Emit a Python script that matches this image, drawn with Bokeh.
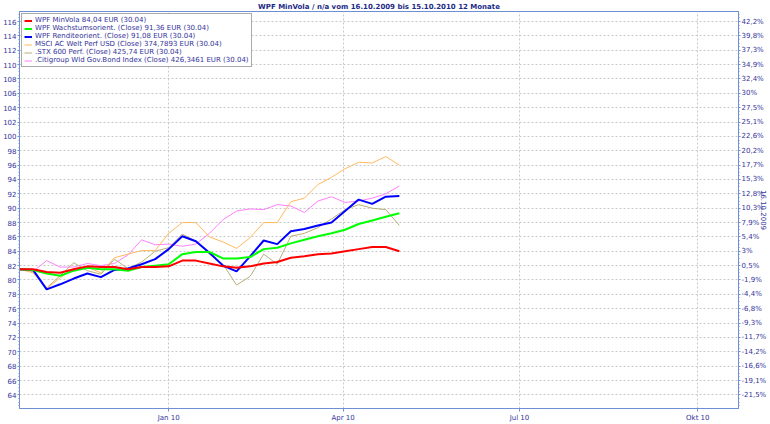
import numpy as np
import pandas as pd
from bokeh.plotting import figure
from bokeh.models import (LinearAxis, FixedTicker, Legend, LegendItem,
                          Range1d, ColumnDataSource)
from bokeh.embed import file_html
from bokeh.resources import INLINE

# ---------------- data ----------------
dates = ["2009-10-16", "2009-10-23", "2009-10-30", "2009-11-06", "2009-11-13",
         "2009-11-20", "2009-11-27", "2009-12-04", "2009-12-11", "2009-12-18",
         "2009-12-25", "2010-01-01", "2010-01-08", "2010-01-15", "2010-01-22",
         "2010-01-29", "2010-02-05", "2010-02-12", "2010-02-19", "2010-02-26",
         "2010-03-05", "2010-03-12", "2010-03-19", "2010-03-26", "2010-04-02",
         "2010-04-09", "2010-04-16", "2010-04-23", "2010-04-30"]

minvola = [81.5, 81.5, 81.1, 81.0, 81.5, 81.9, 81.8, 81.8, 81.5, 81.8,
           81.8, 81.9, 82.7, 82.7, 82.3, 81.9, 81.7, 81.9, 82.3, 82.5,
           83.1, 83.3, 83.6, 83.7, 84.0, 84.3, 84.6, 84.6, 84.0]
wachstum = [81.5, 81.4, 80.9, 80.6, 81.3, 81.7, 81.5, 81.5, 81.3, 81.8,
            82.0, 82.2, 83.6, 83.9, 83.9, 83.0, 83.0, 83.2, 84.3, 84.5,
            85.1, 85.6, 86.1, 86.5, 87.0, 87.8, 88.3, 88.8, 89.3]
rendite = [81.5, 81.4, 78.7, 79.4, 80.2, 80.9, 80.4, 81.4, 81.6, 82.2,
           82.9, 84.3, 86.1, 85.4, 83.8, 82.0, 81.2, 83.3, 85.5, 85.0,
           86.8, 87.1, 87.6, 88.0, 89.6, 91.2, 90.6, 91.6, 91.7]
msci = [81.5, 81.0, 78.8, 80.3, 81.6, 81.8, 81.0, 83.1, 83.6, 84.1,
        84.1, 86.5, 88.0, 88.0, 86.0, 85.3, 84.4, 85.9, 88.0, 88.0,
        90.9, 91.4, 93.3, 94.3, 95.5, 96.4, 96.3, 97.2, 96.0]
stx600 = [81.5, 81.2, 78.9, 80.6, 82.4, 81.3, 80.8, 82.9, 81.6, 82.5,
          84.0, 84.5, 86.4, 85.4, 83.6, 82.2, 79.3, 80.5, 83.6, 82.2,
          86.1, 86.5, 87.3, 88.5, 89.8, 90.5, 90.0, 89.8, 87.6]
citi = [81.5, 81.2, 82.7, 81.8, 81.8, 82.3, 82.0, 82.3, 83.5, 85.6,
        84.9, 85.0, 84.7, 85.0, 86.5, 88.4, 89.6, 89.9, 89.8, 90.5,
        90.3, 89.4, 91.0, 91.6, 90.8, 91.0, 91.4, 92.0, 93.1]

legend_labels = [
    "WPF MinVola 84,04 EUR (30.04)",
    "WPF Wachstumsorient. (Close) 91,36 EUR (30.04)",
    "WPF Renditeorient. (Close) 91,08 EUR (30.04)",
    "MSCI AC Welt Perf USD (Close) 374,7893 EUR (30.04)",
    ".STX 600 Perf. (Close) 425,74 EUR (30.04)",
    ".Citigroup Wld Gov.Bond Index (Close) 426,3461 EUR (30.04)",
]

left_ticks = [64, 66, 68, 70, 72, 74, 76, 78, 80, 82, 84, 86, 88, 90, 92,
              94, 96, 98, 100, 102, 104, 106, 108, 110, 112, 114, 116]
right_labels = ["-21,5%", "-19,1%", "-16,6%", "-14,2%", "-11,7%", "-9,3%",
                "-6,8%", "-4,4%", "-1,9%", "0,5%", "3%", "5,4%", "7,9%",
                "10,3%", "12,8%", "15,3%", "17,7%", "20,2%", "22,6%", "25,1%",
                "27,5%", "30%", "32,4%", "34,9%", "37,3%", "39,8%", "42,2%"]
x_tick_dates = ["2010-01-01", "2010-04-01", "2010-07-01", "2010-10-01"]
x_tick_labels = ["Jan 10", "Apr 10", "Jul 10", "Okt 10"]

title_text = "WPF MinVola / n/a vom 16.10.2009 bis 15.10.2010 12 Monate"
base_date_text = "16.10.2009"

# ---------------- styling ----------------
FONT = "DejaVu Sans"
TXT = "#33339a"
FRAME = "#6f8fd4"
GRID = "#c8c8c8"

src = ColumnDataSource(dict(date=pd.to_datetime(dates), minvola=minvola,
                            wachstum=wachstum, rendite=rendite, msci=msci,
                            stx600=stx600, citi=citi))

p = figure(width=770, height=424, output_backend="svg", toolbar_location=None,
           x_axis_type="datetime",
           x_range=Range1d(pd.Timestamp("2009-10-16"), pd.Timestamp("2010-10-22")),
           y_range=Range1d(62.1, 117.4),
           min_border_left=0, min_border_right=0, min_border_top=0,
           min_border_bottom=0)

p.background_fill_color = "white"
p.border_fill_color = "white"
p.outline_line_color = FRAME
p.outline_line_width = 1

p.title.text = title_text
p.title.align = "center"
p.title.text_font = FONT
p.title.text_font_size = "7px"
p.title.text_font_style = "bold"
p.title.text_color = "#1c2a86"
p.title.standoff = 1
p.title.offset = 0

# x axis
x_ticks_ms = [pd.Timestamp(d).value // 10**6 for d in x_tick_dates]
xt = FixedTicker(ticks=x_ticks_ms, minor_ticks=[])
p.xaxis.ticker = xt
p.xaxis.major_label_overrides = {t: lab for t, lab in zip(x_ticks_ms, x_tick_labels)}
p.xaxis.axis_label = None
p.yaxis.axis_label = None

# y axes
minor = list(np.arange(62.5, 117.5, 0.5))
yt = FixedTicker(ticks=left_ticks, minor_ticks=minor)
p.yaxis.ticker = yt
ra = LinearAxis(ticker=FixedTicker(ticks=left_ticks, minor_ticks=minor),
                major_label_overrides={t: lab for t, lab in zip(left_ticks, right_labels)},
                axis_label=base_date_text)
p.add_layout(ra, "right")

for ax in p.axis:
    ax.axis_line_color = FRAME
    ax.major_tick_line_color = FRAME
    ax.minor_tick_line_color = FRAME
    ax.major_tick_out = 3
    ax.major_tick_in = 0
    ax.minor_tick_out = 1
    ax.minor_tick_in = 0
    ax.major_label_text_font = FONT
    ax.major_label_text_font_size = "7px"
    ax.major_label_text_color = TXT
    ax.major_label_standoff = 2

p.yaxis.major_label_standoff = 1
p.yaxis.major_tick_out = 2

ra.axis_label_text_font = FONT
ra.axis_label_text_font_size = "7px"
ra.axis_label_text_font_style = "normal"
ra.axis_label_text_color = TXT
ra.axis_label_standoff = -8

p.xgrid.ticker = xt
p.ygrid.ticker = yt
p.grid.grid_line_color = GRID
p.grid.grid_line_dash = "2 2"
p.grid.grid_line_width = 1

# lines (thin ones first, thick on top)
specs = [
    ("citi", "#ff80ff", 1, 5),
    ("stx600", "#b9ae78", 1, 4),
    ("msci", "#ffb85f", 1, 3),
    ("rendite", "#0000ff", 2, 2),
    ("wachstum", "#00ff00", 2, 1),
    ("minvola", "#ff0000", 2, 0),
]
rends = {}
for col, color, lw, idx in specs:
    rends[idx] = p.line(x="date", y=col, source=src, line_color=color, line_width=lw)

items = [LegendItem(label=legend_labels[i], renderers=[rends[i]]) for i in range(6)]
leg = Legend(items=items, location="top_left")
leg.label_text_font = FONT
leg.label_text_font_size = "7px"
leg.label_text_color = TXT
leg.label_height = 7
leg.label_standoff = 3
leg.glyph_height = 7
leg.glyph_width = 8
leg.spacing = 0
leg.padding = 2
leg.margin = 2
leg.border_line_color = "#555555"
leg.border_line_width = 1
leg.background_fill_color = "white"
leg.background_fill_alpha = 1
p.add_layout(leg)

open("out.html", "w").write(file_html(p, INLINE))
